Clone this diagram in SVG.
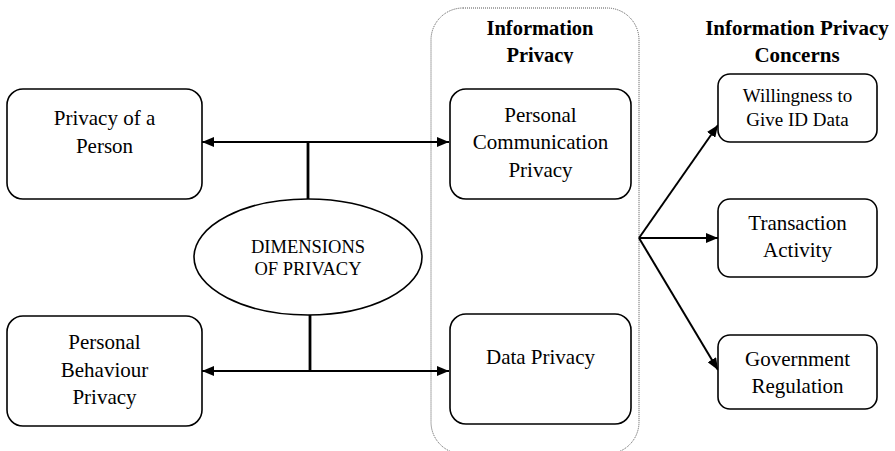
<svg xmlns="http://www.w3.org/2000/svg" width="895" height="451" viewBox="0 0 895 451">
<style>
.box{fill:#fff;stroke:#000;stroke-width:1.6}
.t{font-family:"Liberation Serif","Times New Roman",serif;font-size:21px;fill:#000;text-anchor:middle}
.ts{font-size:19px}
.te{font-size:18.5px}
.b{font-weight:bold;font-size:20.5px}
.c{stroke:#000;stroke-width:2;fill:none}
.v{stroke:#000;stroke-width:2.8;fill:none}
</style>
<defs>
<marker id="ah" viewBox="0 0 12 10" refX="12" refY="5" markerWidth="12" markerHeight="10" markerUnits="userSpaceOnUse" orient="auto-start-reverse">
<path d="M0,0 L12,5 L0,10 Z" fill="#000"/>
</marker>
<clipPath id="cp"><rect x="431" y="40" width="208" height="23.5"/></clipPath>
</defs>
<rect width="895" height="451" fill="#fff"/>
<g id="info-privacy">
<rect x="431" y="8" width="208" height="446" rx="32" fill="none" stroke="#555" stroke-width="1" stroke-dasharray="1,1"/>
<text class="t b" x="540" y="35">Information</text>
<text class="t b" x="540" y="62" clip-path="url(#cp)">Privacy</text>
</g>
<g id="concerns-title">
<text class="t b" x="797" y="35" style="font-size:21px">Information Privacy</text>
<text class="t b" x="797" y="62" style="font-size:21px">Concerns</text>
</g>
<g id="connectors">
<line class="c" x1="202" y1="142" x2="449" y2="142" marker-start="url(#ah)" marker-end="url(#ah)"/>
<line class="v" x1="308" y1="142" x2="308" y2="199"/>
<line class="c" x1="202" y1="371" x2="449" y2="371" marker-start="url(#ah)" marker-end="url(#ah)"/>
<line class="v" x1="310" y1="315" x2="310" y2="371"/>
<line class="c" x1="639" y1="238" x2="718" y2="125" marker-end="url(#ah)"/>
<line class="c" x1="639" y1="238" x2="718" y2="238" marker-end="url(#ah)"/>
<line class="c" x1="639" y1="238" x2="718" y2="370" marker-end="url(#ah)"/>
</g>
<g id="privacy-person">
<rect class="box" x="7" y="89" width="195" height="110" rx="16"/>
<text class="t" x="104.5" y="125">Privacy of a</text>
<text class="t" x="104.5" y="153">Person</text>
</g>
<g id="behaviour">
<rect class="box" x="7" y="316" width="195" height="110" rx="16"/>
<text class="t" x="104.5" y="349">Personal</text>
<text class="t" x="104.5" y="377">Behaviour</text>
<text class="t" x="104.5" y="404">Privacy</text>
</g>
<g id="dimensions">
<ellipse class="box" cx="308" cy="257" rx="114" ry="58"/>
<text class="t te" x="308" y="253">DIMENSIONS</text>
<text class="t te" x="308" y="275">OF PRIVACY</text>
</g>
<g id="communication">
<rect class="box" x="450" y="89" width="181" height="110" rx="16"/>
<text class="t" x="540.5" y="122">Personal</text>
<text class="t" x="540.5" y="149">Communication</text>
<text class="t" x="540.5" y="177">Privacy</text>
</g>
<g id="data-privacy">
<rect class="box" x="450" y="314" width="181" height="110" rx="16"/>
<text class="t" x="540.5" y="364">Data Privacy</text>
</g>
<g id="willingness">
<rect class="box" x="718" y="74" width="159" height="68" rx="12"/>
<text class="t ts" x="797.5" y="102">Willingness to</text>
<text class="t ts" x="797.5" y="126">Give ID Data</text>
</g>
<g id="transaction">
<rect class="box" x="718" y="199" width="159" height="78" rx="12"/>
<text class="t" x="797.5" y="230">Transaction</text>
<text class="t" x="797.5" y="257">Activity</text>
</g>
<g id="government">
<rect class="box" x="718" y="335" width="159" height="74" rx="12"/>
<text class="t" x="797.5" y="366">Government</text>
<text class="t" x="797.5" y="393">Regulation</text>
</g>
</svg>
